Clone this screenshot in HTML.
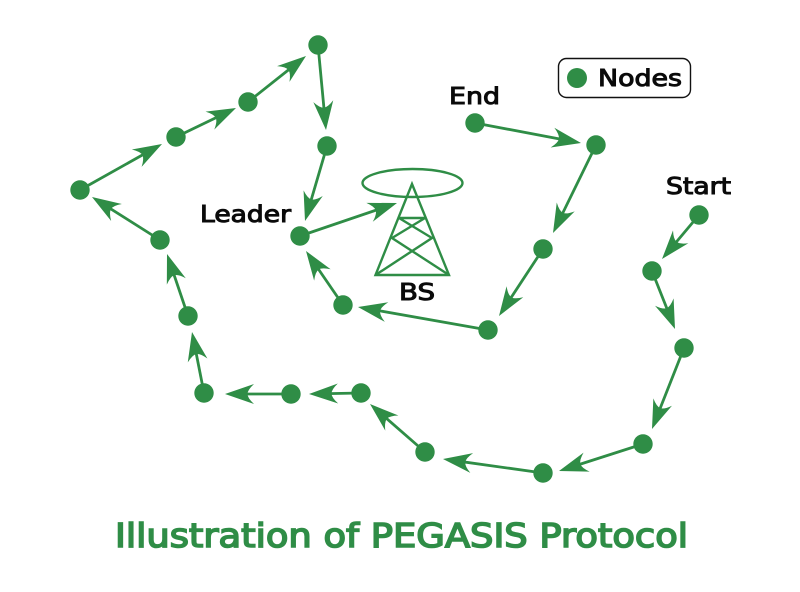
<!DOCTYPE html>
<html>
<head>
<meta charset="utf-8">
<style>
html,body{margin:0;padding:0;background:#fff;width:800px;height:592px;overflow:hidden}
svg{display:block}
text{font-family:"DejaVu Sans","Liberation Sans",sans-serif;font-weight:normal}
</style>
</head>
<body>
<svg width="800" height="592" viewBox="0 0 800 592" xmlns="http://www.w3.org/2000/svg">
<defs>
<marker id="a" markerUnits="userSpaceOnUse" markerWidth="40" markerHeight="30" refX="30" refY="15" orient="auto" overflow="visible">
<path d="M30,15 L1,5 Q7.500,11 7.500,15 Q7.500,19 1,25 Z" fill="#2f8d46"/>
</marker>
</defs>
<g stroke="#2f8d46" stroke-width="2.8" fill="none" stroke-dasharray="88 100">
<line pathLength="100" x1="699" y1="215" x2="662" y2="259" marker-end="url(#a)"/>
<line pathLength="100" x1="652" y1="271" x2="675" y2="329" marker-end="url(#a)"/>
<line pathLength="100" x1="684" y1="348" x2="652" y2="429" marker-end="url(#a)"/>
<line pathLength="100" x1="643" y1="444" x2="559" y2="471" marker-end="url(#a)"/>
<line pathLength="100" x1="543" y1="473" x2="443" y2="459" marker-end="url(#a)"/>
<line pathLength="100" x1="425" y1="452" x2="370" y2="404" marker-end="url(#a)"/>
<line pathLength="100" x1="361" y1="393" x2="309" y2="394" marker-end="url(#a)"/>
<line pathLength="100" x1="291" y1="394" x2="225" y2="394" marker-end="url(#a)"/>
<line pathLength="100" x1="204" y1="393" x2="192" y2="332" marker-end="url(#a)"/>
<line pathLength="100" x1="188" y1="316" x2="167" y2="254" marker-end="url(#a)"/>
<line pathLength="100" x1="160" y1="240" x2="92" y2="197" marker-end="url(#a)"/>
<line pathLength="100" x1="80" y1="190" x2="162" y2="144" marker-end="url(#a)"/>
<line pathLength="100" x1="176" y1="137" x2="236" y2="108" marker-end="url(#a)"/>
<line pathLength="100" x1="248" y1="102" x2="306" y2="56" marker-end="url(#a)"/>
<line pathLength="100" x1="318" y1="45" x2="326" y2="130" marker-end="url(#a)"/>
<line pathLength="100" x1="327" y1="146" x2="305" y2="221" marker-end="url(#a)"/>
<line pathLength="100" x1="300" y1="236" x2="397" y2="203" marker-end="url(#a)"/>
<line pathLength="100" x1="475" y1="123" x2="581" y2="143" marker-end="url(#a)"/>
<line pathLength="100" x1="596" y1="145" x2="553" y2="233" marker-end="url(#a)"/>
<line pathLength="100" x1="543" y1="249" x2="499" y2="316" marker-end="url(#a)"/>
<line pathLength="100" x1="488" y1="330" x2="358" y2="307" marker-end="url(#a)"/>
<line pathLength="100" x1="343" y1="305" x2="306" y2="251" marker-end="url(#a)"/>
</g>
<g fill="#2f8d46">
<circle cx="699" cy="215" r="9.7"/><circle cx="652" cy="271" r="9.7"/><circle cx="684" cy="348" r="9.7"/>
<circle cx="643" cy="444" r="9.7"/><circle cx="543" cy="473" r="9.7"/><circle cx="425" cy="452" r="9.7"/>
<circle cx="361" cy="393" r="9.7"/><circle cx="291" cy="394" r="9.7"/><circle cx="204" cy="393" r="9.7"/>
<circle cx="188" cy="316" r="9.7"/><circle cx="160" cy="240" r="9.7"/><circle cx="80" cy="190" r="9.7"/>
<circle cx="176" cy="137" r="9.7"/><circle cx="248" cy="102" r="9.7"/><circle cx="318" cy="45" r="9.7"/>
<circle cx="327" cy="146" r="9.7"/><circle cx="300" cy="236" r="9.7"/><circle cx="343" cy="305" r="9.7"/>
<circle cx="488" cy="330" r="9.7"/><circle cx="543" cy="249" r="9.7"/><circle cx="596" cy="145" r="9.7"/>
<circle cx="475" cy="123" r="9.7"/>
</g>
<g stroke="#2f8d46" stroke-width="2.4" fill="none">
<ellipse cx="412.5" cy="183" rx="50" ry="14"/>
<path d="M412,184 L375.500,275 H449 Z"/>
<path d="M399,218 H425 M399,218 L432,238 L375.500,275 M425,218 L392,238 L449,275"/>
</g>
<rect x="558.500" y="58.500" width="132" height="39" rx="8" fill="#fff" stroke="#111" stroke-width="1.4"/>
<circle cx="577" cy="78" r="10" fill="#2f8d46"/>
<g fill="#0a0a0a" stroke="#0a0a0a" stroke-width="1" font-size="23">
<text x="598" y="86" textLength="84" lengthAdjust="spacingAndGlyphs">Nodes</text>
<text x="449" y="104" textLength="51" lengthAdjust="spacingAndGlyphs">End</text>
<text x="666" y="194" textLength="65" lengthAdjust="spacingAndGlyphs">Start</text>
<text x="200" y="222" textLength="91" lengthAdjust="spacingAndGlyphs">Leader</text>
<text x="399" y="300" textLength="36" lengthAdjust="spacingAndGlyphs">BS</text>
</g>
<text x="115" y="547" font-size="33" fill="#2f8d46" stroke="#2f8d46" stroke-width="1.6" textLength="573" lengthAdjust="spacingAndGlyphs">Illustration of PEGASIS Protocol</text>
</svg>
</body>
</html>
